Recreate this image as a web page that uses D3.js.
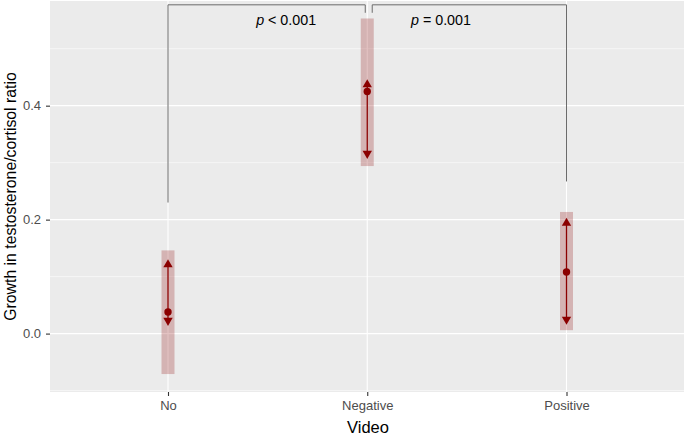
<!DOCTYPE html>
<html><head><meta charset="utf-8">
<script src="https://cdn.jsdelivr.net/npm/d3@7"></script>
<style>body{margin:0;background:#fff}svg{display:block;font-family:"Liberation Sans",Arial,sans-serif}</style>
</head><body><svg id="c" width="685" height="436"></svg>
<script>
const categories = ["No", "Negative", "Positive"];
const means = [0.038, 0.425, 0.108];
const upperVals = [0.121, 0.437, 0.194];
const lowerVals = [0.023, 0.316, 0.025];
const bandTop = [0.146, 0.553, 0.2135];
const bandBottom = [-0.071, 0.294, 0.006];
const yTicks = [0.0, 0.2, 0.4];
const yTickLabels = ["0.0", "0.2", "0.4"];
const yMinor = [-0.1, 0.1, 0.3, 0.5];
const bracketFrom = [1, 2.025];
const bracketTo = [1.99, 3];
const bracketLeftEnd = [0.23, 0.563];
const bracketRightEnd = [0.563, 0.267];
const bracketTop = [0.577, 0.577];
const bracketOp = ["< 0.001", "= 0.001"];
const bracketLabelX = [1.593, 2.37];

const svg = d3.select("#c");
const panel = {l: 50, r: 684, t: 1, b: 392};
const x = d3.scaleLinear().domain([1, 3]).range([168, 566.5]);
const y = d3.scaleLinear().domain([-0.1025, 0.5837]).range([panel.b, panel.t]);

svg.append("rect").attr("x", panel.l).attr("y", panel.t)
  .attr("width", panel.r - panel.l).attr("height", panel.b - panel.t).attr("fill", "#EBEBEB");

const g = svg.append("g");
g.selectAll(".ymin").data(yMinor).enter().append("line")
  .attr("x1", panel.l).attr("x2", panel.r).attr("y1", d => y(d)).attr("y2", d => y(d))
  .attr("stroke", "#fff").attr("stroke-width", 0.55);
g.selectAll(".ymaj").data(yTicks).enter().append("line")
  .attr("x1", panel.l).attr("x2", panel.r).attr("y1", d => y(d)).attr("y2", d => y(d))
  .attr("stroke", "#fff").attr("stroke-width", 1.1);
g.selectAll(".xmaj").data(categories).enter().append("line")
  .attr("x1", (d, i) => x(i + 1)).attr("x2", (d, i) => x(i + 1))
  .attr("y1", panel.t).attr("y2", panel.b)
  .attr("stroke", "#fff").attr("stroke-width", 1.1);

g.selectAll(".band").data(categories).enter().append("rect")
  .attr("x", (d, i) => x(i + 1) - 6.5).attr("width", 13)
  .attr("y", (d, i) => y(bandTop[i])).attr("height", (d, i) => y(bandBottom[i]) - y(bandTop[i]))
  .attr("fill", "#8B0000").attr("fill-opacity", 0.24);

bracketFrom.forEach((f, i) => {
  const p = d3.path();
  p.moveTo(x(f), y(bracketLeftEnd[i]));
  p.lineTo(x(f), y(bracketTop[i]));
  p.lineTo(x(bracketTo[i]), y(bracketTop[i]));
  p.lineTo(x(bracketTo[i]), y(bracketRightEnd[i]));
  g.append("path").attr("d", p.toString()).attr("fill", "none")
    .attr("stroke", "#6b6b6b").attr("stroke-width", 1);
  const t = g.append("text").attr("x", x(bracketLabelX[i])).attr("y", 25)
    .attr("text-anchor", "middle").attr("font-size", 14.3).attr("fill", "#000");
  t.append("tspan").attr("font-style", "italic").text("p");
  t.append("tspan").text(" " + bracketOp[i]);
});

g.selectAll(".rng").data(categories).enter().append("line")
  .attr("x1", (d, i) => x(i + 1)).attr("x2", (d, i) => x(i + 1))
  .attr("y1", (d, i) => y(upperVals[i])).attr("y2", (d, i) => y(lowerVals[i]))
  .attr("stroke", "#8B0000").attr("stroke-width", 1.3);
const tri = d3.symbol().type(d3.symbolTriangle).size(38);
g.selectAll(".up").data(categories).enter().append("path")
  .attr("d", tri).attr("fill", "#8B0000")
  .attr("transform", (d, i) => `translate(${x(i + 1)},${y(upperVals[i])})`);
g.selectAll(".dn").data(categories).enter().append("path")
  .attr("d", tri).attr("fill", "#8B0000")
  .attr("transform", (d, i) => `translate(${x(i + 1)},${y(lowerVals[i])}) rotate(180)`);
g.selectAll(".pt").data(categories).enter().append("circle")
  .attr("cx", (d, i) => x(i + 1)).attr("cy", (d, i) => y(means[i])).attr("r", 3.7)
  .attr("fill", "#8B0000");

const xa = svg.append("g").attr("transform", `translate(0,${panel.b})`)
  .call(d3.axisBottom(x).tickValues([1, 2, 3]).tickFormat((d, i) => categories[i]).tickSize(4).tickPadding(5));
const ya = svg.append("g").attr("transform", `translate(${panel.l},0)`)
  .call(d3.axisLeft(y).tickValues(yTicks).tickFormat((d, i) => yTickLabels[i]).tickSize(4).tickPadding(5));
[xa, ya].forEach(a => {
  a.select(".domain").remove();
  a.selectAll(".tick line").attr("stroke", "#333").attr("stroke-width", 1.1);
  a.selectAll(".tick text").attr("fill", "#4D4D4D").attr("font-size", 13)
    .attr("font-family", "'Liberation Sans',Arial,sans-serif");
});

svg.append("text").attr("x", 368).attr("y", 433)
  .attr("text-anchor", "middle").attr("font-size", 16.5).attr("fill", "#000").text("Video");
svg.append("text").attr("transform", `translate(16,${(panel.t + panel.b) / 2}) rotate(-90)`)
  .attr("text-anchor", "middle").attr("font-size", 15.8).attr("fill", "#000")
  .text("Growth in testosterone/cortisol ratio");
</script></body></html>
